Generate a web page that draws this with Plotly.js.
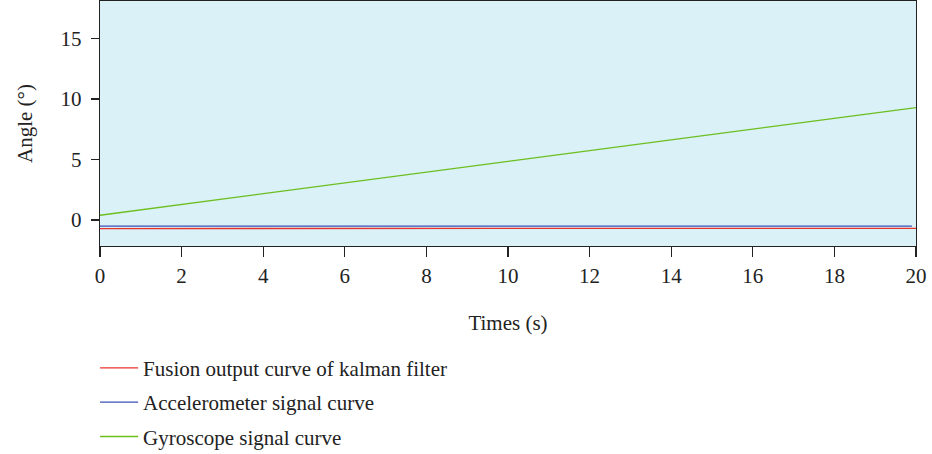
<!DOCTYPE html>
<html>
<head>
<meta charset="utf-8">
<script src="https://cdn.plot.ly/plotly-3.0.1.min.js"></script>
<style>html,body{margin:0;padding:0;background:#fff;}#chart{width:932px;height:454px;}</style>
</head>
<body>
<div id="chart"></div>
<script>
const timeS = [0, 10, 20];
const kalmanAngle = [-0.70, -0.69, -0.68];
const accelTime = [0, 10, 19.9];
const accelAngle = [-0.50, -0.50, -0.50];
const gyroAngle = [0.40, 4.85, 9.30];
const seriesNames = ["Fusion output curve of kalman filter", "Accelerometer signal curve", "Gyroscope signal curve"];
const xTicks = [0, 2, 4, 6, 8, 10, 12, 14, 16, 18, 20];
const yTicks = [0, 5, 10, 15];

const font = "Liberation Serif, Times New Roman, serif";
const fs = 21;
const traces = [
  {x: timeS, y: kalmanAngle, name: seriesNames[0], legendgroup: "a", mode: "lines", line: {color: "#e8332a", width: 1.3}},
  {x: accelTime, y: accelAngle, name: seriesNames[1], legendgroup: "b", mode: "lines", line: {color: "#3b4fb3", width: 1.3}},
  {x: timeS, y: gyroAngle, name: seriesNames[2], legendgroup: "c", mode: "lines", line: {color: "#6cbf1e", width: 1.3}}
];
const layout = {
  width: 932, height: 454,
  margin: {l: 100, r: 16, t: 1, b: 208},
  paper_bgcolor: "#ffffff",
  plot_bgcolor: "#d9f1f7",
  font: {family: font, size: fs, color: "#222"},
  showlegend: true,
  legend: {x: -0.006, xanchor: "left", yref: "container", y: 0.234, yanchor: "top", font: {family: font, size: fs, color: "#222"}, tracegroupgap: 4, itemwidth: 38, bgcolor: "rgba(0,0,0,0)"},
  xaxis: {
    range: [0, 20], tickvals: xTicks, ticks: "outside", ticklen: 10, tickwidth: 1.3, tickcolor: "#222",
    showline: true, linecolor: "#222", linewidth: 1.3, mirror: true, showgrid: false, zeroline: false, automargin: false,
    title: {text: "Times (s)", standoff: 28, font: {family: font, size: fs}}, tickfont: {family: font, size: fs}
  },
  yaxis: {
    range: [-2.14, 18.1], tickvals: yTicks, ticks: "outside", ticklen: 8, tickwidth: 1.3, tickcolor: "#222",
    showline: true, linecolor: "#222", linewidth: 1.3, mirror: true, showgrid: false, zeroline: false, automargin: false,
    ticklabelstandoff: 5,
    title: {text: "Angle (°)", standoff: 22, font: {family: font, size: fs}}, tickfont: {family: font, size: fs}
  }
};
Plotly.newPlot("chart", traces, layout, {displayModeBar: false, staticPlot: true});
</script>
</body>
</html>
